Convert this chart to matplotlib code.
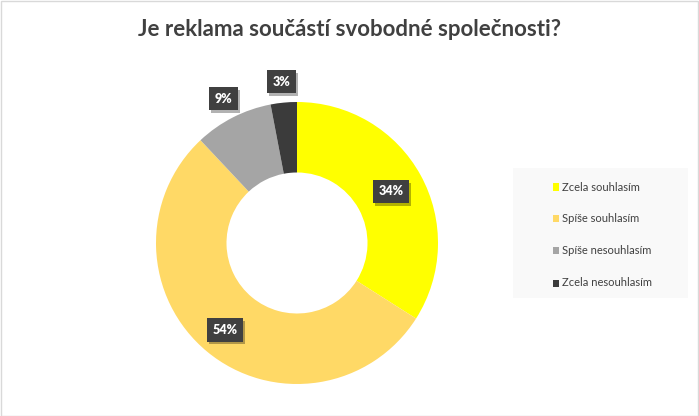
import numpy as np
import matplotlib
matplotlib.use("Agg")
import matplotlib.pyplot as plt
from matplotlib.patches import Rectangle
import matplotlib.patheffects as pe

categories = ["Zcela souhlasím", "Spíše souhlasím", "Spíše nesouhlasím", "Zcela nesouhlasím"]
values = [34, 54, 9, 3]
labels = ["34%", "54%", "9%", "3%"]
colors = ["#FFFF00", "#FFD966", "#A5A5A5", "#3B3B3B"]
title = "Je reklama součástí svobodné společnosti?"

plt.rcParams['font.family'] = ['Lato', 'DejaVu Sans']

W, H = 699, 416
fig = plt.figure(figsize=(W/100, H/100), dpi=100)
fig.patch.set_facecolor("white")
fig.add_artist(Rectangle((0.5/W, 0.5/H), 1-1.5/W, 1-1.5/H, transform=fig.transFigure,
                         fill=False, edgecolor="#D9D9D9", linewidth=1))

cx, cy, R = 297, 243, 141
ax = fig.add_axes([(cx-R)/W, (H-cy-R)/H, 2*R/W, 2*R/H])
wedges, _ = ax.pie(values, colors=colors, startangle=90, counterclock=False,
                   radius=1, wedgeprops=dict(width=0.5, edgecolor="none"))
ax.set_xlim(-1, 1); ax.set_ylim(-1, 1)
ax.set_aspect("equal")
ax.axis("off")

for w, lab, v in zip(wedges, labels, values):
    ang = np.deg2rad((w.theta1 + w.theta2) / 2)
    r = 0.76 if v >= 20 else 1.15
    if v >= 50:
        r = 0.80
    x, y = r*np.cos(ang), r*np.sin(ang)
    t = ax.text(x, y, lab, ha="center", va="center", fontsize=9, fontweight="heavy",
                color="white", bbox=dict(boxstyle="square,pad=0.45", fc="#404040", ec="none"),
                clip_on=False, zorder=5)
    t.get_bbox_patch().set_path_effects([
        pe.withSimplePatchShadow(offset=(1.5, -2), shadow_rgbFace="#000000", alpha=0.3)])

fig.text(0.5, 1 - 30/H, title, ha="center", va="center", fontsize=16,
         fontweight="bold", color="#404040")

# legend
lx0, ly0, lw, lh = 513, 168, 175, 130
fig.add_artist(Rectangle((lx0/W, (H-ly0-lh)/H), lw/W, lh/H, transform=fig.transFigure,
                         facecolor="#F9F9F9", edgecolor="none"))
ys = [187, 218, 250, 283]
for c, name, yy in zip(colors, categories, ys):
    fig.add_artist(Rectangle((553/W, (H-yy-3.5)/H), 6/W, 7/H, transform=fig.transFigure,
                             facecolor=c, edgecolor="none"))
    fig.text(562/W, 1 - yy/H, name, ha="left", va="center", fontsize=8, color="#404040")

fig.savefig("out.png", dpi=100)
